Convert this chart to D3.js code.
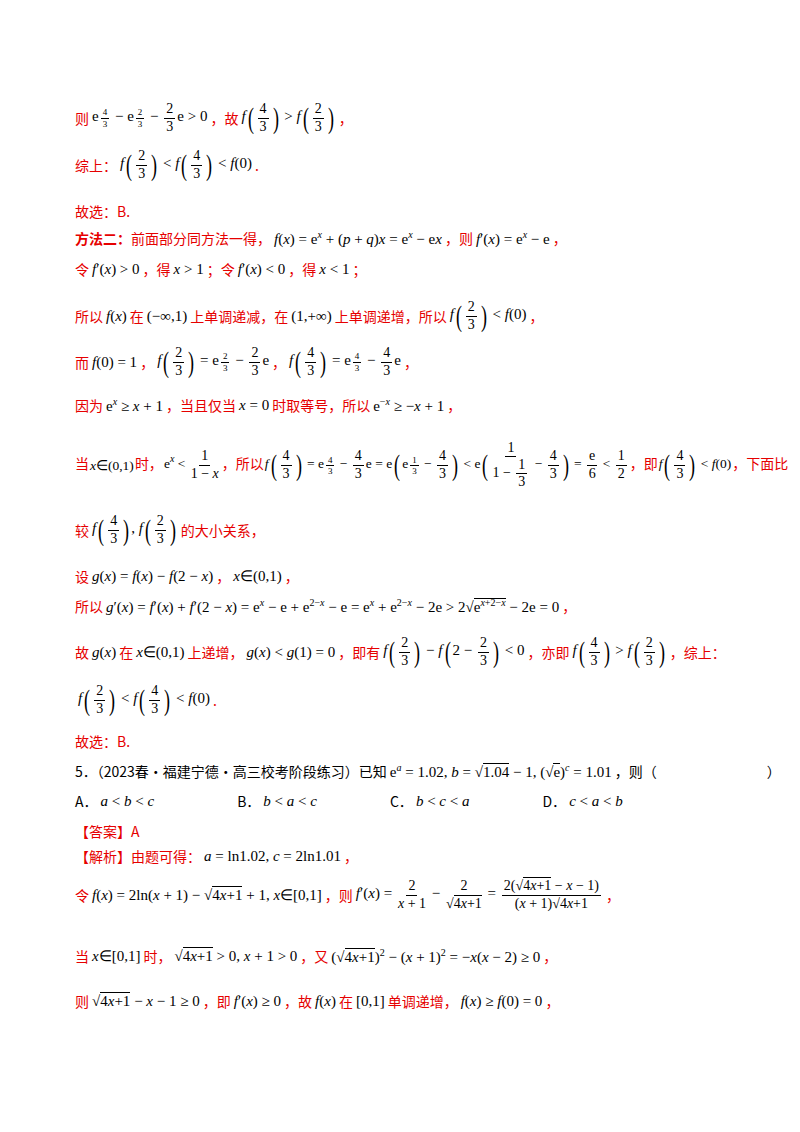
<!DOCTYPE html>
<html><head><meta charset="utf-8">
<script src="https://cdn.jsdelivr.net/npm/d3@7"></script>
<style>
body{margin:0;width:800px;height:1132px;background:#fff;font-family:"Noto Sans CJK SC",sans-serif;font-size:14px;}
.ln{position:absolute;left:75px;white-space:nowrap;}
.ln>span{vertical-align:middle}
.r{color:#e60000}.k{color:#000}
.m{font-family:"Liberation Serif","Times New Roman",serif;font-size:15px;color:#000;margin:0 3px;display:inline-block;vertical-align:middle}
.f{display:inline-flex;flex-direction:column;align-items:center;margin:0 2px;font-size:14px;vertical-align:middle;line-height:1.15}
.f>span:first-child{border-bottom:1px solid #000;padding:0 2px}
.p{display:inline-block;font-size:30px;font-weight:100;transform:scaleX(.6);line-height:1;vertical-align:middle}
sup{font-size:10px;vertical-align:super}
sup .f{font-size:9px;vertical-align:baseline}
.sm .m{font-size:13.5px;margin:0 1px}
</style></head><body>
<div id="page"></div>
<script>
const F=(a,b)=>`<span class="f"><span>${a}</span><span>${b}</span></span>`;
const P=x=>`<span class="p">(</span>${x}<span class="p">)</span>`;
const M=x=>`<span class="m">${x}</span>`;
const R=x=>`√<span style="border-top:1px solid #000">${x}</span>`;
const lineY=[118,165,210,237,268,316,362,404,465,530,575,605,652,700,740,770,800,830,855,895,955,1000];
const lineHtml=[
`<span class="r">则</span>${M(`e<sup>${F('4','3')}</sup> − e<sup>${F('2','3')}</sup> − ${F('2','3')}e &gt; 0`)}<span class="r">，故</span>${M(`<i>f</i>${P(F('4','3'))} &gt; <i>f</i>${P(F('2','3'))}`)}<span class="r">，</span>`,
`<span class="r">综上：</span>${M(`<i>f</i>${P(F('2','3'))} &lt; <i>f</i>${P(F('4','3'))} &lt; <i>f</i>(0)`)}<span class="r">.</span>`,
`<span class="r">故选：B.</span>`,
`<span class="r"><b>方法二：</b>前面部分同方法一得，</span>${M(`<i>f</i>(<i>x</i>) = e<sup><i>x</i></sup> + (<i>p</i> + <i>q</i>)<i>x</i> = e<sup><i>x</i></sup> − e<i>x</i>`)}<span class="r">，则</span>${M(`<i>f</i>′(<i>x</i>) = e<sup><i>x</i></sup> − e`)}<span class="r">，</span>`,
`<span class="r">令</span>${M(`<i>f</i>′(<i>x</i>) &gt; 0`)}<span class="r">，得</span>${M(`<i>x</i> &gt; 1`)}<span class="r">；令</span>${M(`<i>f</i>′(<i>x</i>) &lt; 0`)}<span class="r">，得</span>${M(`<i>x</i> &lt; 1`)}<span class="r">；</span>`,
`<span class="r">所以</span>${M(`<i>f</i>(<i>x</i>)`)}<span class="r">在</span>${M(`(−∞,1)`)}<span class="r">上单调递减，在</span>${M(`(1,+∞)`)}<span class="r">上单调递增，所以</span>${M(`<i>f</i>${P(F('2','3'))} &lt; <i>f</i>(0)`)}<span class="r">，</span>`,
`<span class="r">而</span>${M(`<i>f</i>(0) = 1`)}<span class="r">，</span>${M(`<i>f</i>${P(F('2','3'))} = e<sup>${F('2','3')}</sup> − ${F('2','3')}e`)}<span class="r">，</span>${M(`<i>f</i>${P(F('4','3'))} = e<sup>${F('4','3')}</sup> − ${F('4','3')}e`)}<span class="r">，</span>`,
`<span class="r">因为</span>${M(`e<sup><i>x</i></sup> ≥ <i>x</i> + 1`)}<span class="r">，当且仅当</span>${M(`<i>x</i> = 0`)}<span class="r">时取等号，所以</span>${M(`e<sup>−<i>x</i></sup> ≥ −<i>x</i> + 1`)}<span class="r">，</span>`,
`<span class="sm"><span class="r">当</span>${M(`<i>x</i>∈(0,1)`)}<span class="r">时，</span>${M(`e<sup><i>x</i></sup> &lt; ${F('1','1 − <i>x</i>')}`)}<span class="r">，所以</span>${M(`<i>f</i>${P(F('4','3'))} = e<sup>${F('4','3')}</sup> − ${F('4','3')}e = e${P(`e<sup>${F('1','3')}</sup> − ${F('4','3')}`)} &lt; e${P(`${F('1','1 − '+F('1','3'))} − ${F('4','3')}`)} = ${F('e','6')} &lt; ${F('1','2')}`)}<span class="r">，即</span>${M(`<i>f</i>${P(F('4','3'))} &lt; <i>f</i>(0)`)}<span class="r">，下面比</span></span>`,
`<span class="r">较</span>${M(`<i>f</i>${P(F('4','3'))}, <i>f</i>${P(F('2','3'))}`)}<span class="r">的大小关系，</span>`,
`<span class="r">设</span>${M(`<i>g</i>(<i>x</i>) = <i>f</i>(<i>x</i>) − <i>f</i>(2 − <i>x</i>)`)}<span class="r">，</span>${M(`<i>x</i>∈(0,1)`)}<span class="r">，</span>`,
`<span class="r">所以</span>${M(`<i>g</i>′(<i>x</i>) = <i>f</i>′(<i>x</i>) + <i>f</i>′(2 − <i>x</i>) = e<sup><i>x</i></sup> − e + e<sup>2−<i>x</i></sup> − e = e<sup><i>x</i></sup> + e<sup>2−<i>x</i></sup> − 2e &gt; 2${R(`e<sup><i>x</i>+2−<i>x</i></sup>`)} − 2e = 0`)}<span class="r">，</span>`,
`<span class="r">故</span>${M(`<i>g</i>(<i>x</i>)`)}<span class="r">在</span>${M(`<i>x</i>∈(0,1)`)}<span class="r">上递增，</span>${M(`<i>g</i>(<i>x</i>) &lt; <i>g</i>(1) = 0`)}<span class="r">，即有</span>${M(`<i>f</i>${P(F('2','3'))} − <i>f</i>${P(`2 − ${F('2','3')}`)} &lt; 0`)}<span class="r">，亦即</span>${M(`<i>f</i>${P(F('4','3'))} &gt; <i>f</i>${P(F('2','3'))}`)}<span class="r">，综上：</span>`,
`${M(`<i>f</i>${P(F('2','3'))} &lt; <i>f</i>${P(F('4','3'))} &lt; <i>f</i>(0)`)}<span class="r">.</span>`,
`<span class="r">故选：B.</span>`,
`<span class="k">5．（2023春·福建宁德·高三校考阶段练习）已知</span>${M(`e<sup><i>a</i></sup> = 1.02, <i>b</i> = ${R('1.04')} − 1, (${R('e')})<sup><i>c</i></sup> = 1.01`)}<span class="k">，则（</span><span style="display:inline-block;width:110px"></span><span class="k">）</span>`,
`<span class="k">A．</span>${M(`<i>a</i> &lt; <i>b</i> &lt; <i>c</i>`)}<span style="display:inline-block;width:80px"></span><span class="k">B．</span>${M(`<i>b</i> &lt; <i>a</i> &lt; <i>c</i>`)}<span style="display:inline-block;width:70px"></span><span class="k">C．</span>${M(`<i>b</i> &lt; <i>c</i> &lt; <i>a</i>`)}<span style="display:inline-block;width:70px"></span><span class="k">D．</span>${M(`<i>c</i> &lt; <i>a</i> &lt; <i>b</i>`)}`,
`<span class="r">【答案】A</span>`,
`<span class="r">【解析】由题可得：</span>${M(`<i>a</i> = ln1.02, <i>c</i> = 2ln1.01`)}<span class="r">，</span>`,
`<span class="r">令</span>${M(`<i>f</i>(<i>x</i>) = 2ln(<i>x</i> + 1) − ${R('4<i>x</i>+1')} + 1, <i>x</i>∈[0,1]`)}<span class="r">，则</span>${M(`<i>f</i>′(<i>x</i>) = ${F('2','<i>x</i> + 1')} − ${F('2',R('4<i>x</i>+1'))} = ${F(`2(${R('4<i>x</i>+1')} − <i>x</i> − 1)`,`(<i>x</i> + 1)${R('4<i>x</i>+1')}`)}`)}<span class="r">，</span>`,
`<span class="r">当</span>${M(`<i>x</i>∈[0,1]`)}<span class="r">时，</span>${M(`${R('4<i>x</i>+1')} &gt; 0, <i>x</i> + 1 &gt; 0`)}<span class="r">，又</span>${M(`(${R('4<i>x</i>+1')})<sup>2</sup> − (<i>x</i> + 1)<sup>2</sup> = −<i>x</i>(<i>x</i> − 2) ≥ 0`)}<span class="r">，</span>`,
`<span class="r">则</span>${M(`${R('4<i>x</i>+1')} − <i>x</i> − 1 ≥ 0`)}<span class="r">，即</span>${M(`<i>f</i>′(<i>x</i>) ≥ 0`)}<span class="r">，故</span>${M(`<i>f</i>(<i>x</i>)`)}<span class="r">在</span>${M(`[0,1]`)}<span class="r">单调递增，</span>${M(`<i>f</i>(<i>x</i>) ≥ <i>f</i>(0) = 0`)}<span class="r">，</span>`
];
const y=d3.scaleLinear().domain([0,1132]).range([0,1132]);
d3.select("#page").selectAll("div.ln").data(d3.zip(lineY,lineHtml)).join("div")
 .attr("class","ln").html(d=>d[1]).each(function(d){
   const h=this.getBoundingClientRect().height;
   d3.select(this).style("top",(y(d[0])-h/2)+"px");
 });
</script></body></html>
